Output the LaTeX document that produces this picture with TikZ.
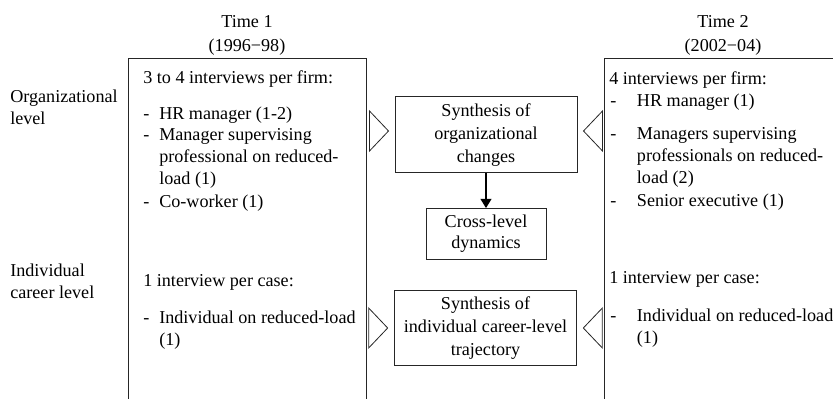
\documentclass[tikz,border=0pt]{standalone}
\usepackage{fontspec}
\setmainfont{Liberation Serif}
\usetikzlibrary{arrows.meta, positioning}
\tikzset{
  txt/.style = {inner sep=0pt, font=\fontsize{13.6}{16.5}\selectfont},
  lbl/.style = {txt, anchor=base west, align=left},
  timelbl/.style = {txt, align=center, font=\fontsize{13.6}{18}\selectfont},
  frame/.style = {draw=black!85, line width=0.75pt},
  synbox/.style = {frame, txt, align=center, inner sep=2pt,
    font=\fontsize{13.6}{17.5}\selectfont},% synthesis boxes
  pointer/.style = {draw=black!85, line width=0.6pt, line join=miter}
}
% dash, then a column of wrapped lines
\newcommand{\dashitem}[2]{\makebox[#1][l]{-}%
  \renewcommand{\arraystretch}{1.0}\begin{tabular}[t]{@{}l@{}}#2\end{tabular}}

\begin{document}
\begin{tikzpicture}[x=0.75pt, y=-0.75pt]
  \useasboundingbox (0,0) rectangle (833,399);

  % frames of the two waves, open at the bottom
  \coordinate (l1) at (128,402);
  \coordinate (l2) at (128,59);
  \coordinate (l3) at (366,59);
  \coordinate (l4) at (366,402);
  \coordinate (r1) at (604,402);
  \coordinate (r2) at (604,59);
  \coordinate (r3) at (845,59);
  \draw[frame] (l1) -- (l2) -- (l3) -- (l4);
  \draw[frame] (r1) -- (r2) -- (r3);

  \node (time1) [timelbl] at (247,35) {Time 1\\(1996−98)};
  \node (time2) [timelbl] at (723,35) {Time 2\\(2002−04)};

  \node (orglvl) [lbl] at (10,125) {Organizational\\level};
  \node (indlvl) [lbl] at (10,299) {Individual\\career level};

  % time 1
  \node (t1org) [lbl] at (143,84) {3 to 4 interviews per firm:};
  \node (t1hr) [lbl] at (143,120) {\dashitem{12pt}{HR manager (1-2)}};
  \node (t1mgr) [lbl] at (143,141)
    {\dashitem{12pt}{Manager supervising\\professional on reduced-\\load (1)}};
  \node (t1cow) [lbl] at (143,208) {\dashitem{12pt}{Co-worker (1)}};
  \node (t1ind) [lbl] at (143,287) {1 interview per case:};
  \node (t1red) [lbl] at (143,324) {\dashitem{12pt}{Individual on reduced-load\\(1)}};

  % time 2
  \node (t2org) [lbl] at (609,85) {4 interviews per firm:};
  \node (t2hr) [lbl] at (610,107) {\dashitem{20pt}{HR manager (1)}};
  \node (t2mgr) [lbl] at (610,140)
    {\dashitem{20pt}{Managers supervising\\professionals on reduced-\\load (2)}};
  \node (t2sen) [lbl] at (610,207) {\dashitem{20pt}{Senior executive (1)}};
  \node (t2ind) [lbl] at (609,284) {1 interview per case:};
  \node (t2red) [lbl] at (610,322) {\dashitem{20pt}{Individual on reduced-load\\(1)}};

  % synthesis
  \node (orgsyn) [synbox, minimum width=136.5pt, minimum height=57pt]
    at (486,135) {Synthesis of\\organizational\\changes};
  \node (cross) [synbox, minimum width=90pt, minimum height=38pt,
    below=26pt of orgsyn, font=\fontsize{13.6}{16}\selectfont]
    {Cross-level\\dynamics};
  \node (indsyn) [synbox, minimum width=137pt, minimum height=56pt]
    at (485.5,328) {Synthesis of\\individual career-level\\trajectory};

  \draw[line width=1.6pt, -{Triangle[length=7pt, width=8pt]}]
    (orgsyn) -- (cross);

  % open pointers towards the synthesis boxes
  \draw[pointer] ([xshift=-4.5pt, yshift=3pt]orgsyn.west) -- ++(-19,-20)
    -- ++(0,40) -- cycle;
  \draw[pointer] ([xshift=4.5pt, yshift=3pt]orgsyn.east) -- ++(19,-20)
    -- ++(0,40) -- cycle;
  \draw[pointer] ([xshift=-4.5pt]indsyn.west) -- ++(-19,-20)
    -- ++(0,40) -- cycle;
  \draw[pointer] ([xshift=4.5pt]indsyn.east) -- ++(19,-20)
    -- ++(0,40) -- cycle;
\end{tikzpicture}
\end{document}
